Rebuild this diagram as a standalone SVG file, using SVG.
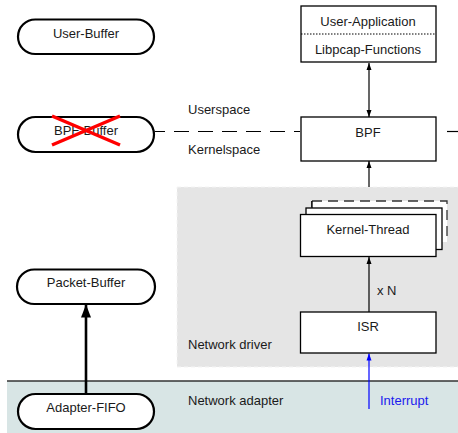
<svg xmlns="http://www.w3.org/2000/svg" width="458" height="433" viewBox="0 0 458 433">
<defs>
<style>
text{font-family:"Liberation Sans",Arial,sans-serif;font-size:13px;fill:#1a1a1a}
.c{text-anchor:middle}
.stad{fill:#fff;stroke:#000;stroke-width:2.2}
.box{fill:#fff;stroke:#000;stroke-width:1.3}
.ln{stroke:#000;stroke-width:1.2;fill:none}
</style>
<marker id="ah" markerWidth="8" markerHeight="8" refX="7" refY="4" orient="auto" markerUnits="userSpaceOnUse">
<path d="M0,1.5 L7,4 L0,6.5 z" fill="#000"/>
</marker>
<marker id="ahs" markerWidth="8" markerHeight="8" refX="1" refY="4" orient="auto" markerUnits="userSpaceOnUse">
<path d="M8,1.5 L1,4 L8,6.5 z" fill="#000"/>
</marker>
<marker id="ahb" markerWidth="8" markerHeight="8" refX="7" refY="4" orient="auto" markerUnits="userSpaceOnUse">
<path d="M0,1.5 L7,4 L0,6.5 z" fill="#0000ff"/>
</marker>
<marker id="big" markerWidth="14" markerHeight="12" refX="13" refY="6" orient="auto" markerUnits="userSpaceOnUse">
<path d="M0,1 L13,6 L0,11 z" fill="#000"/>
</marker>
</defs>

<g id="regions">
<rect x="177" y="187" width="290" height="180" fill="#e5e5e5" stroke="#f4f4f4" stroke-width="1" stroke-dasharray="4 3"/>
<rect x="7" y="381" width="460" height="60" fill="#d8e5e5"/>
<line x1="7" y1="381" x2="458" y2="381" stroke="#333" stroke-width="1.3"/>
<text x="188" y="113.5">Userspace</text>
<text x="188" y="154">Kernelspace</text>
<text x="188" y="349">Network driver</text>
<text x="188" y="405">Network adapter</text>
</g>

<g id="connectors">
<line class="ln" x1="155" y1="131.5" x2="300" y2="131.5" stroke-dasharray="15 9" stroke-dashoffset="5"/>
<line class="ln" x1="447" y1="131.5" x2="458" y2="131.5"/>
<line class="ln" x1="369" y1="63" x2="369" y2="117" marker-start="url(#ahs)" marker-end="url(#ah)"/>
<line class="ln" x1="369" y1="187" x2="369" y2="161" marker-end="url(#ah)"/>
<line class="ln" x1="369" y1="312" x2="369" y2="257" marker-end="url(#ah)"/>
<text x="377" y="295">x N</text>
<line x1="369" y1="409" x2="369" y2="353.5" stroke="#0000ff" stroke-width="1.2" marker-end="url(#ahb)"/>
<text x="380" y="405" style="fill:#1a1aee">Interrupt</text>
<line x1="86" y1="394" x2="86" y2="304.5" stroke="#000" stroke-width="2.6" marker-end="url(#big)"/>
</g>

<g id="user-buffer">
<rect class="stad" x="18" y="19.5" width="136" height="34.5" rx="17.25"/>
<text class="c" x="86" y="38">User-Buffer</text>
</g>

<g id="bpf-buffer">
<rect class="stad" x="18" y="117" width="136" height="35" rx="17.5"/>
<text class="c" x="86" y="135">BPF-Buffer</text>
<line x1="52" y1="116" x2="120" y2="145" stroke="#ff0000" stroke-width="3.5"/>
<line x1="52" y1="145" x2="120" y2="116" stroke="#ff0000" stroke-width="3.5"/>
</g>

<g id="packet-buffer">
<rect class="stad" x="17" y="269.5" width="138" height="34.5" rx="17.25"/>
<text class="c" x="86" y="287">Packet-Buffer</text>
</g>

<g id="adapter-fifo">
<rect class="stad" x="18" y="394" width="136" height="35" rx="17.5"/>
<text class="c" x="86" y="412">Adapter-FIFO</text>
</g>

<g id="user-application">
<rect class="box" x="301" y="6" width="135" height="56"/>
<line x1="301" y1="34" x2="436" y2="34" stroke="#000" stroke-width="1" stroke-dasharray="1.5 1.5"/>
<text class="c" x="368" y="25.5">User-Application</text>
<text class="c" x="368" y="54">Libpcap-Functions</text>
</g>

<g id="bpf">
<rect class="box" x="301" y="117" width="135" height="44"/>
<text class="c" x="368" y="137">BPF</text>
</g>

<g id="kernel-thread">
<path d="M312,207 L312,201" stroke="#000" stroke-width="1.3" fill="none"/>
<rect x="312" y="201" width="135" height="41" fill="#fff"/>
<path d="M312,201 L447,201 L447,242" stroke="#333" stroke-width="1.3" fill="none" stroke-dasharray="10 6"/>
<line x1="312" y1="201" x2="312" y2="208" stroke="#000" stroke-width="1.3"/>
<rect class="box" x="306" y="208" width="136" height="41.5"/>
<rect class="box" x="300.5" y="214.5" width="135.5" height="42"/>
<text class="c" x="368" y="234">Kernel-Thread</text>
</g>

<g id="isr">
<rect class="box" x="300.5" y="312" width="135.5" height="41"/>
<text class="c" x="368" y="330.5">ISR</text>
</g>
</svg>
